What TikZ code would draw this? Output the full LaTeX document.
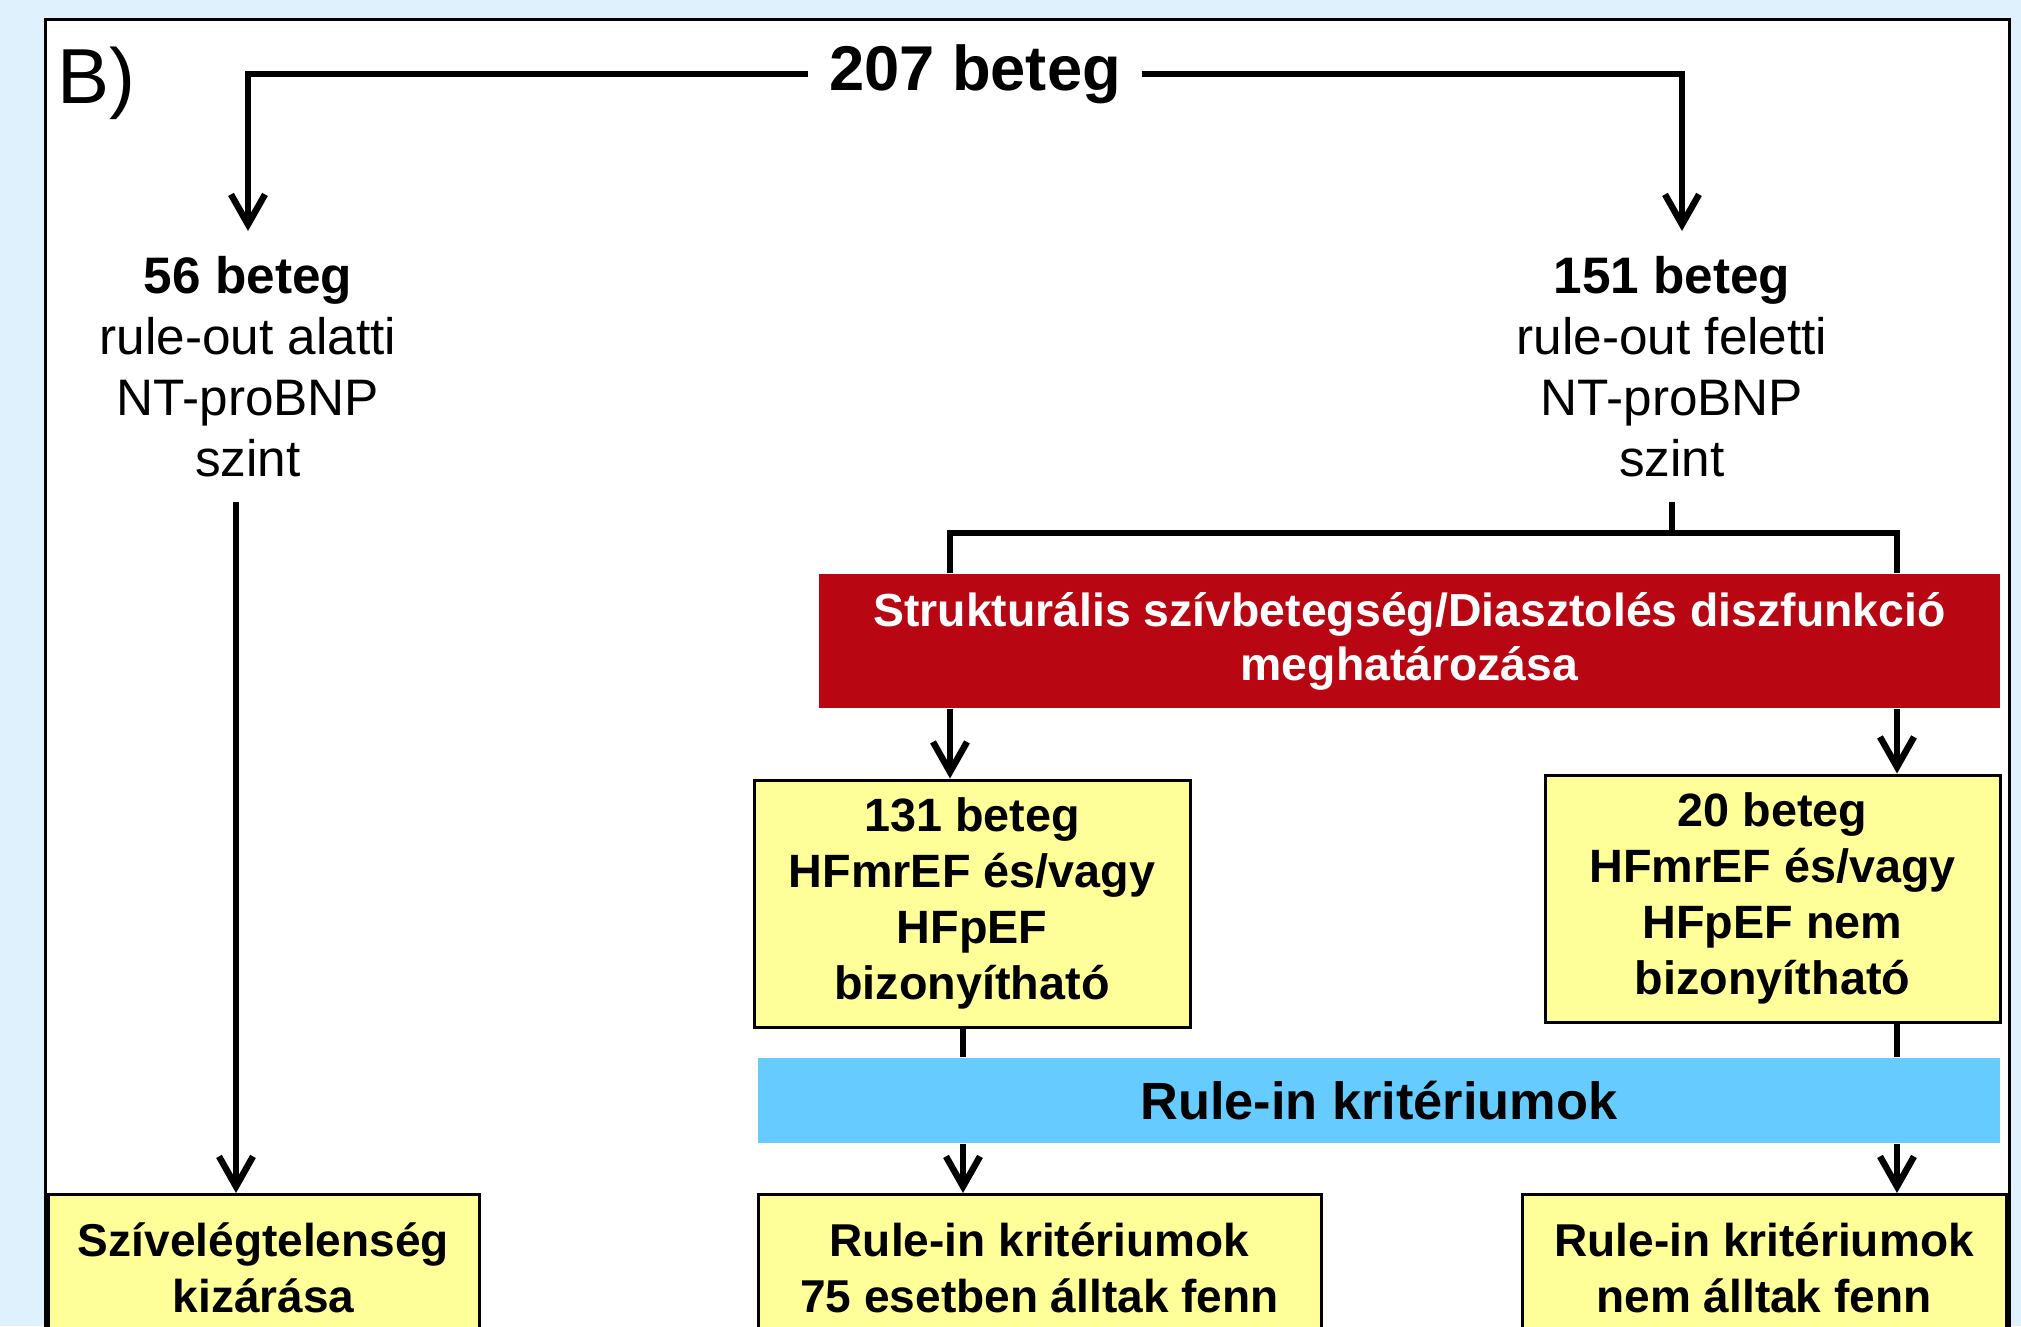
\documentclass[tikz,border=0pt]{standalone}
\usepackage{fontspec}
\setmainfont{Liberation Sans}
\usepackage{tikz}
\usetikzlibrary{positioning,arrows.meta}
\definecolor{sky}{HTML}{DFF1FC}
\definecolor{pale}{HTML}{FFFF99}
\definecolor{crimson}{HTML}{B90613}
\definecolor{azure}{HTML}{66CCFF}
\tikzset{
  wire/.style     = {draw=black, line width=0.65mm},
  arr/.style      = {wire, -{Straight Barb[length=3mm,width=3.4mm]}},
  coltext/.style  = {align=center, inner sep=0pt, outer ysep=2.5mm, anchor=north, font=\fontsize{14.6}{17.4}\selectfont},
  ybox/.style     = {draw, line width=0.3mm, fill=pale, align=center, inner sep=0pt, font=\fontsize{13.3}{15.9}\selectfont\bfseries},
  endbox/.style   = {draw, line width=0.3mm, fill=pale, align=center, inner sep=0pt, anchor=north, minimum height=14.7mm, font=\fontsize{13.1}{16}\selectfont\bfseries},
  redbar/.style   = {fill=crimson, text=white, align=center, inner sep=0pt, font=\fontsize{13.2}{15.4}\selectfont\bfseries},
  bluebar/.style  = {fill=azure, inner sep=0pt, font=\fontsize{14.9}{18}\selectfont\bfseries},
}

\begin{document}
\begin{tikzpicture}[x=0.1mm,y=-0.1mm]
\path[use as bounding box, fill=sky] (0,0) rectangle (2021,1326);
\clip (0,0) rectangle (2021,1326);
\draw[line width=0.3mm, fill=white] (45,19) rectangle (2009,1340);

\node[font=\fontsize{22.2}{26}\selectfont, anchor=base west, inner sep=0pt] (tag) at (57,103) {B)};

% ---- top split ----------------------------------------------------------
\node[font=\fontsize{18}{21}\selectfont\bfseries, inner xsep=2mm, inner ysep=0pt] (total) at (975,74) {207 beteg};

\node[coltext] (n56)  at (248,231)  {{\bfseries 56 beteg}\\rule-out alatti\\NT-proBNP\\szint};
\node[coltext] (n151) at (1672,231) {{\bfseries 151 beteg}\\rule-out feletti\\NT-proBNP\\szint};

\draw[arr] (total.west) -| (n56.north);
\draw[arr] (total.east) -| ([xshift=1mm]n151.north);

% ---- right branch -------------------------------------------------------
\coordinate (sl) at (950,533);
\coordinate (sr) at (1897,533);
\coordinate (ma) at (963,0);
\coordinate (mb) at (1897,0);
\coordinate (lx) at (236,0);

\node[redbar, minimum width=118.1mm, minimum height=13.4mm] (red) at (1409.5,641)
  {Strukturális szívbetegség/Diasztolés diszfunkció\\meghatározása};

\node[ybox, minimum width=43.6mm, minimum height=24.7mm] (hfA) at (972,903.5)
  {131 beteg\\HFmrEF és/vagy\\HFpEF\\bizonyítható};
\node[ybox, minimum width=45.5mm, minimum height=24.7mm] (hfB) at (1772.5,898.5)
  {20 beteg\\HFmrEF és/vagy\\HFpEF nem\\bizonyítható};

\node[bluebar, minimum width=124.2mm, minimum height=8.5mm] (blue) at (1379,1100.5) {Rule-in kritériumok};

% ---- bottom row ---------------------------------------------------------
\node[endbox, minimum width=43.1mm] (lbox) at (263.5,1193) {Szívelégtelenség\\kizárása};
\node[endbox, minimum width=56.3mm] (riA)  at (1039.5,1193) {Rule-in kritériumok\\75 esetben álltak fenn};
\node[endbox, minimum width=48.4mm] (riB)  at (1764,1193) {Rule-in kritériumok\\nem álltak fenn};

\draw[arr] (n56.south -| lx) -- (lbox.north -| lx);
\draw[wire] (n151.south) -- (n151.south |- sl);
\draw[wire] (red.north -| sl) -- (sl) -- (sr) -- (red.north -| sr);
\draw[arr] (red.south -| sl) -- (hfA.north -| sl);
\draw[arr] (red.south -| sr) -- (hfB.north -| sr);
\draw[wire] (hfA.south -| ma) -- (blue.north -| ma);
\draw[wire] (hfB.south -| mb) -- (blue.north -| mb);
\draw[arr] (blue.south -| ma) -- (riA.north -| ma);
\draw[arr] (blue.south -| mb) -- (riB.north -| mb);

\end{tikzpicture}
\end{document}
